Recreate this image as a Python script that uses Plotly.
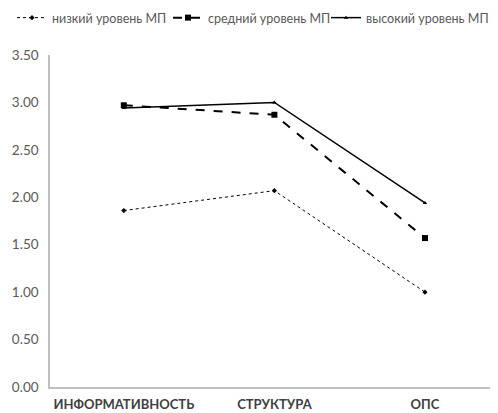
import plotly.graph_objects as go

categories = ["ИНФОРМАТИВНОСТЬ", "СТРУКТУРА", "ОПС"]
low = [1.86, 2.07, 1.00]
mid = [2.97, 2.87, 1.57]
high = [2.94, 3.00, 1.94]
names = ["низкий уровень МП", "средний уровень МП", "высокий уровень МП"]
yticks = [0, 0.5, 1.0, 1.5, 2.0, 2.5, 3.0, 3.5]

W, H = 490, 405

fig = go.Figure()
fig.add_trace(go.Scatter(x=categories, y=low, name=names[0], mode="lines+markers",
                         line=dict(color="black", width=1, dash="dot"),
                         marker=dict(symbol="diamond", size=4, color="black"),
                         legend="legend"))
fig.add_trace(go.Scatter(x=categories, y=mid, name=names[1], mode="lines+markers",
                         line=dict(color="black", width=2, dash="dash"),
                         marker=dict(symbol="square", size=6, color="black"),
                         legend="legend2"))
fig.add_trace(go.Scatter(x=categories, y=high, name=names[2], mode="lines+markers",
                         line=dict(color="black", width=1.5),
                         marker=dict(symbol="triangle-up", size=4, color="black"),
                         legend="legend3"))

leg_font = dict(family="Lato", size=12.5, color="#595959")
def leg(xpx):
    return dict(orientation="h", x=xpx / W, xanchor="left", y=1 - 10 / H, yanchor="middle",
                xref="container", yref="container", font=leg_font, itemwidth=30,
                bgcolor="rgba(0,0,0,0)")

fig.update_layout(
    width=W, height=H,
    margin=dict(l=42, r=6, t=47, b=26, autoexpand=False),
    plot_bgcolor="white", paper_bgcolor="white",
    font=dict(family="Lato", size=13, color="#595959"),
    showlegend=True,
    legend=leg(4),
    legend2=leg(160),
    legend3=leg(318),
    xaxis=dict(type="category", range=[-0.49, 2.445], showline=True, linecolor="#BFBFBF",
               linewidth=1.5, ticks="", showgrid=False, ticklabelstandoff=5,
               tickfont=dict(family="Lato", size=13, color="#404040", weight="bold")),
    yaxis=dict(range=[0, 3.5], tickvals=yticks, tickformat=".2f", showline=True,
               linecolor="#BFBFBF", linewidth=1.5, showgrid=False, ticks="",
               zeroline=False, ticklabelstandoff=7,
               tickfont=dict(family="Lato", size=13.5, color="#595959")),
)
fig.write_html("out.html")
